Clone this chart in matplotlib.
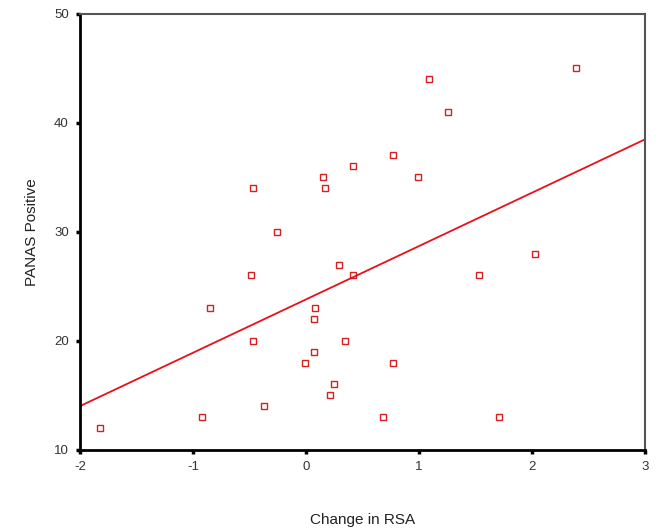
import numpy as np
import matplotlib.pyplot as plt

plt.rcParams['font.family'] = ['Liberation Sans', 'DejaVu Sans']
plt.rcParams['axes.unicode_minus'] = False

# Change in RSA vs PANAS Positive
rsa_change = [-1.82, -0.92, -0.85, -0.47, -0.49, -0.47, -0.26, -0.37, -0.01, 0.07,
              0.08, 0.07, 0.15, 0.17, 0.29, 0.35, 0.25, 0.21, 0.42, 0.42,
              0.68, 0.77, 0.77, 0.99, 1.09, 1.26, 1.53, 1.71, 2.03, 2.39]
panas_pos = [12, 13, 23, 34, 26, 20, 30, 14, 18, 19,
             23, 22, 35, 34, 27, 20, 16, 15, 36, 26,
             13, 37, 18, 35, 44, 41, 26, 13, 28, 45]

x_ticks = [-2, -1, 0, 1, 2, 3]
y_ticks = [10, 20, 30, 40, 50]

fig = plt.figure(figsize=(6.56, 5.28), dpi=100)
ax = fig.add_axes([0.122, 0.148, 0.861, 0.826])

ax.plot(rsa_change, panas_pos, linestyle='none', marker='s', markersize=4.3,
        markerfacecolor='white', markeredgecolor='#d42020', markeredgewidth=1.0)

# least squares fit line across the full x range
slope, intercept = np.polyfit(rsa_change, panas_pos, 1)
xs = np.array([x_ticks[0], x_ticks[-1]])
ax.plot(xs, intercept + slope * xs, color='#e8101a', linewidth=1.3)

ax.set_xlim(x_ticks[0], x_ticks[-1])
ax.set_ylim(y_ticks[0], y_ticks[-1])
ax.set_xticks(x_ticks)
ax.set_yticks(y_ticks)

for side in ['left', 'bottom']:
    ax.spines[side].set_linewidth(2.0)
    ax.spines[side].set_color('black')
for side in ['top', 'right']:
    ax.spines[side].set_linewidth(1.5)
    ax.spines[side].set_color('#555555')

ax.tick_params(direction='out', length=3, width=2.5, labelsize=9.5,
               labelcolor='#333333', top=False, right=False, pad=5)

ax.set_xlabel('Change in RSA', fontsize=11, color='#222222', labelpad=29)
ax.set_ylabel('PANAS Positive', fontsize=11, color='#222222', labelpad=11)

fig.savefig('out.png', dpi=100)
